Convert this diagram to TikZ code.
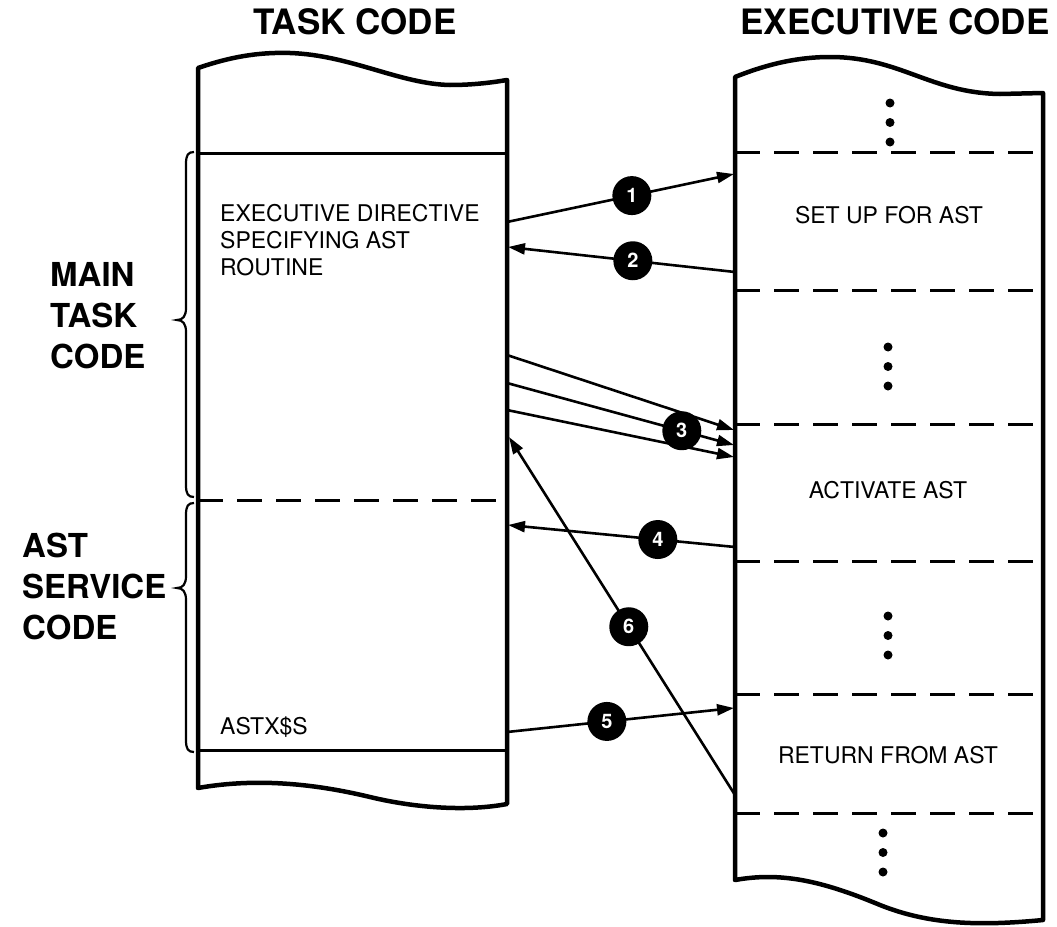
\documentclass[tikz,border=0pt]{standalone}
\usepackage{fontspec}
\setmainfont{TeX Gyre Heros}
\usetikzlibrary{arrows.meta}

\tikzset{
	outline/.style={line width=4.5pt, line join=round},
	solidsep/.style={line width=3pt},
	dashsep/.style={line width=3pt, dash pattern=on 25pt off 14pt},
	callarrow/.style={line width=2.6pt, -{Triangle[length=17pt,width=11pt]}},
	stepmark/.style={circle, fill=black, inner sep=0pt, minimum size=39pt, text=white, font=\fontsize{20}{20}\selectfont\bfseries},
	codetext/.style={font=\fontsize{23}{27}\selectfont, align=left, inner sep=0pt},
	heading/.style={font=\fontsize{35}{40}\selectfont\bfseries, inner sep=0pt},
	sidetext/.style={font=\fontsize{33}{41}\selectfont\bfseries, align=left, inner sep=0pt},
}

\begin{document}
\begin{tikzpicture}[x=1pt,y=-1pt]
		\useasboundingbox (0,0) rectangle (1057,926);
		
		\node[heading] (taskhead) at (355,22) {TASK CODE};
		\node[heading] (exechead) at (895,22) {EXECUTIVE CODE};
		
		% task code column
		\draw[outline] (198,68) .. controls (230,57) and (258,52) .. (290,53)
			.. controls (350,55) and (400,84) .. (450,85)
			.. controls (475,85) and (495,82) .. (507,80)
			-- (507,804)
			.. controls (470,811) and (420,809) .. (370,797)
			.. controls (320,785) and (260,777) .. (198,788) -- cycle;
		\draw[solidsep] (198,153) -- (507,153);
		\draw[dashsep] (198,500) -- (507,500);
		\draw[solidsep] (198,750) -- (507,750);
		
		% executive code column
		\draw[outline] (735,77) .. controls (770,63) and (800,57) .. (830,57)
			.. controls (900,57) and (930,93) .. (1000,94)
			-- (1043,93) -- (1043,920)
			.. controls (980,926) and (930,925) .. (880,905)
			.. controls (820,880) and (780,872) .. (735,880) -- cycle;
		\foreach \y in {152,290,424,561,694,813}
			\draw[dashsep] (735,\y) -- (1043,\y);
		\foreach \x/\y in {890/103, 888/347, 888/616, 883/833}
			\foreach \d in {0,19.5,39}
				\fill (\x,\y+\d) circle (4.5pt);
		
		\node[codetext, anchor=north west] (directive) at (220,204) {EXECUTIVE DIRECTIVE\\SPECIFYING AST\\ROUTINE};
		\node[codetext, anchor=base west] (astx) at (220,734) {ASTX\$S};
		\node[codetext] (setup) at (889,215) {SET UP FOR AST};
		\node[codetext] (activate) at (888,490) {ACTIVATE AST};
		\node[codetext] (return) at (888,755) {RETURN FROM AST};
		
		\node[sidetext, anchor=north west] (maintask) at (50,262) {MAIN\\TASK\\CODE};
		\node[sidetext, anchor=north west] (astservice) at (22,533) {AST\\SERVICE\\CODE};
		\foreach \top/\tip/\bot in {152/320/497, 503/588/752}
			\draw[line width=2.2pt] (194,\top) .. controls (188,\top) and (186,\top+3) .. (186,\top+12)
				-- (186,\tip-12) .. controls (186,\tip-4) and (183,\tip) .. (177,\tip)
				.. controls (183,\tip) and (186,\tip+4) .. (186,\tip+12)
				-- (186,\bot-12) .. controls (186,\bot-3) and (188,\bot) .. (194,\bot);
		
		\coordinate (t1) at (507,222);
		\coordinate (e1) at (734,174);
		\coordinate (e2) at (735,272);
		\coordinate (t2) at (508,247);
		\coordinate (t3a) at (507,355);
		\coordinate (t3b) at (507,383);
		\coordinate (t3c) at (507,410);
		\coordinate (e3a) at (734,430);
		\coordinate (e3b) at (734,445);
		\coordinate (e3c) at (734,457);
		\coordinate (e4) at (735,547);
		\coordinate (t4) at (508,525);
		\coordinate (t5) at (507,732);
		\coordinate (e5) at (734,708);
		\coordinate (e6) at (735,795);
		\coordinate (t6) at (509,437);
		
		\draw[callarrow] (t1) -- node[stepmark, pos=0.55] (s1) {1} (e1);
		\draw[callarrow] (e2) -- node[stepmark, pos=0.45] (s2) {2} (t2);
		\draw[callarrow] (t3a) -- (e3a);
		\draw[callarrow] (t3c) -- (e3c);
		\draw[callarrow] (t3b) -- node[stepmark, pos=0.77] (s3) {3} (e3b);
		\draw[callarrow] (e4) -- node[stepmark, pos=0.34] (s4) {4} (t4);
		\draw[callarrow] (t5) -- node[stepmark, pos=0.44] (s5) {5} (e5);
		\draw[callarrow] (e6) -- node[stepmark, pos=0.47] (s6) {6} (t6);
		
		\end{tikzpicture}
\end{document}
